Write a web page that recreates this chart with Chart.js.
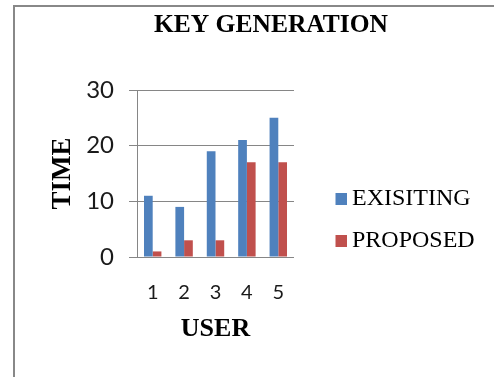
<!DOCTYPE html>
<html>
<head>
<meta charset="utf-8">
<script src="https://cdn.jsdelivr.net/npm/chart.js@4.4.1/dist/chart.umd.min.js"></script>
<style>
  html, body { margin: 0; padding: 0; background: #fff; overflow: hidden; }
  body { width: 494px; height: 377px; position: relative; }
  .frame {
    position: absolute; left: 13px; top: 5px; width: 520px; height: 400px;
    border-left: 2px solid #888; border-top: 2px solid #888;
  }
  #keyChart { position: absolute; left: 15px; top: 7px; width: 512px; height: 426px; }
</style>
</head>
<body>
<div class="frame"></div>
<canvas id="keyChart" width="512" height="426"></canvas>
<script>
const users = ['1', '2', '3', '4', '5'];
const existing = [11, 9, 19, 21, 25];
const proposed = [1, 3, 3, 17, 17];
const timeTicks = [0, 10, 20, 30];

const gridGray = '#868686';
const tickFont = 'Lato, "Open Sans", sans-serif';

// legend swatch: square sitting close to its label (Chart.js leaves half a font gap)
const makeSwatch = (color) => {
  const c = document.createElement('canvas');
  c.width = 27;
  c.height = 12;
  const ctx = c.getContext('2d');
  ctx.fillStyle = color;
  ctx.fillRect(15, 0, 12, 12);
  return c;
};

new Chart(document.getElementById('keyChart'), {
  type: 'bar',
  data: {
    labels: users,
    datasets: [{
      label: 'EXISITING',
      data: existing,
      backgroundColor: '#4F81BD',
      pointStyle: makeSwatch('#4F81BD'),
      yAxisID: 'y'
    }, {
      label: 'PROPOSED',
      data: proposed,
      backgroundColor: '#C0504D',
      pointStyle: makeSwatch('#C0504D'),
      yAxisID: 'y'
    }]
  },
  options: {
    responsive: false,
    animation: false,
    devicePixelRatio: 1,
    categoryPercentage: 0.555,
    barPercentage: 1.0,
    layout: { padding: { left: 42.3, right: 42.3, top: 0, bottom: 0 } },
    scales: {
      x: {
        grid: { display: false },
        border: { display: false },
        ticks: {
          color: '#1a1a1a',
          font: { family: tickFont, size: 20 },
          padding: 16,
          maxRotation: 0,
          autoSkip: false
        },
        title: {
          display: true,
          text: 'USER',
          color: '#000',
          font: { family: 'Liberation Serif', size: 26, weight: 'bold' },
          padding: { top: -7.6, bottom: 88.4 }
        }
      },
      y: {
        min: timeTicks[0],
        max: timeTicks[timeTicks.length - 1],
        grid: { color: gridGray, tickColor: gridGray, tickLength: 8, lineWidth: 1 },
        border: { display: true, color: gridGray, width: 1 },
        ticks: {
          stepSize: timeTicks[1] - timeTicks[0],
          color: '#1a1a1a',
          font: { family: tickFont, size: 24 },
          padding: 15
        },
        title: {
          display: true,
          text: 'TIME',
          color: '#000',
          font: { family: 'Liberation Serif', size: 27, weight: 'bold' },
          padding: { top: -10.5, bottom: 7 }
        },
        // the layout caps each side box at a share of the width, undo that
        afterFit: (scale) => { scale.width = 79.7; }
      },
      // empty spacer between the plot and the legend
      y2: {
        type: 'linear',
        position: 'right',
        display: true,
        grid: { display: false },
        border: { display: false },
        ticks: { display: false },
        afterFit: (scale) => { scale.width = 16; }
      }
    },
    plugins: {
      title: {
        display: true,
        text: 'KEY GENERATION',
        color: '#000',
        font: { family: 'Liberation Serif', size: 25.5, weight: 'bold' },
        padding: { top: 3.2, bottom: 49.2 }
      },
      legend: {
        position: 'right',
        maxWidth: 220,
        labels: {
          usePointStyle: true,
          boxWidth: 12,
          boxHeight: 12,
          padding: 18,
          color: '#000',
          font: { family: 'Liberation Serif', size: 24 }
        }
      },
      tooltip: { enabled: false }
    }
  }
});
</script>
</body>
</html>
